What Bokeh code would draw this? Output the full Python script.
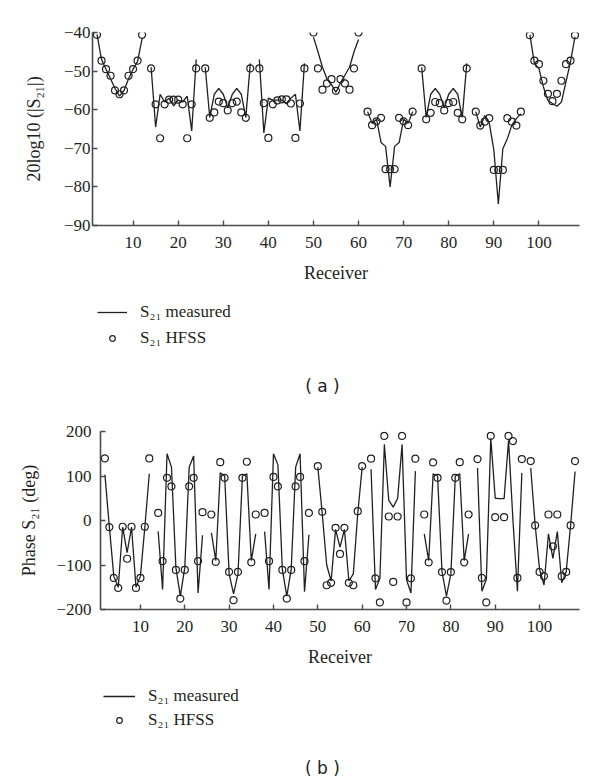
import math
from bokeh.plotting import figure
from bokeh.layouts import column
from bokeh.models import Legend, LegendItem, FixedTicker, Label, ColumnDataSource
from bokeh.embed import file_html
from bokeh.resources import INLINE

nan = float("nan")

# Receiver index 1..108 (9 groups of 12; first slot of each group has no value)
receivers = list(range(1, 109))

mag_measured = (
    [nan, -40.5, -47.0, -49.5, -52.0, -54.5, -56.5, -55.0, -52.0, -49.5, -47.5, -41.5]
    + [nan, -49.0, -64.5, -56.0, -58.0, -57.0, -59.0, -57.5, -58.0, -56.5, -65.5, -47.0]
    + [nan, -49.0, -62.0, -56.0, -54.5, -56.0, -59.5, -56.0, -54.5, -56.0, -62.0, -48.0]
    + [nan, -47.0, -66.0, -57.0, -57.5, -57.5, -57.5, -58.5, -57.0, -56.0, -65.5, -48.0]
    + [nan, -41.2, -45.0, -49.0, -52.0, -53.5, -55.5, -53.0, -51.0, -49.0, -45.0, -41.8]
    + [nan, -60.5, -63.5, -62.5, -68.5, -69.5, -80.0, -69.5, -68.5, -62.5, -63.5, -60.5]
    + [nan, -49.0, -62.0, -56.0, -54.5, -56.0, -59.5, -56.0, -54.5, -56.0, -62.0, -48.0]
    + [nan, -60.5, -64.5, -61.5, -63.5, -70.4, -84.4, -70.1, -67.5, -64.0, -62.3, -61.0]
    + [nan, -40.6, -48.0, -49.3, -54.1, -57.6, -58.4, -59.1, -58.0, -52.8, -47.6, -41.1]
)

mag_hfss = (
    [nan, -40.6, -47.3, -49.5, -51.2, -55.0, -56.0, -55.0, -51.2, -49.5, -47.3, -40.6]
    + [nan, -49.3, -58.6, -67.4, -58.6, -57.4, -57.4, -57.4, -58.6, -67.4, -58.6, -49.3]
    + [nan, -49.3, -62.1, -60.7, -57.9, -58.3, -60.2, -58.3, -57.9, -60.7, -62.1, -49.3]
    + [nan, -49.3, -58.3, -67.3, -58.6, -57.6, -57.3, -57.3, -58.4, -67.3, -58.4, -49.3]
    + [nan, -40.0, -49.3, -54.8, -53.2, -52.1, -55.1, -52.1, -53.2, -54.8, -49.3, -40.0]
    + [nan, -60.5, -64.0, -63.0, -62.1, -75.4, -75.4, -75.4, -62.1, -63.0, -64.0, -60.5]
    + [nan, -49.3, -62.5, -60.8, -58.0, -58.3, -60.2, -58.3, -58.0, -60.8, -62.5, -49.3]
    + [nan, -60.5, -64.1, -63.1, -62.2, -75.6, -75.6, -75.6, -62.2, -63.1, -64.1, -60.5]
    + [nan, -40.7, -47.3, -48.2, -52.5, -55.9, -57.8, -55.9, -52.5, -48.2, -47.3, -40.7]
)

phase_measured = (
    [nan, 103, -15, -125, -150, -15, -72, -15, -150, -125, -15, 105]
    + [nan, -24, -155, 150, 120, -106, -170, -106, 120, 145, -163, -33]
    + [nan, -28, -90, 107, 100, -120, -165, -120, 100, 105, -90, -30]
    + [nan, -25, -155, 150, 125, -110, -170, -110, 120, 150, -160, -32]
    + [nan, 120, 15, -100, -136, -20, -60, -20, -136, -120, 15, 120]
    + [nan, 115, -155, -130, 171, 45, 30, 50, 171, -133, -163, 111]
    + [nan, -30, -90, 105, 100, -115, -170, -120, 100, 105, -90, -30]
    + [nan, 118, -159, -132, 185, 50, 49, 49, 180, 0, -159, 107]
    + [nan, 118, -10, -110, -145, -30, -85, -25, -140, -115, -10, 110]
)

phase_hfss = (
    [nan, 139.5, -15, -129, -151.5, -14, -86, -14, -151.5, -129, -14, 139.5]
    + [nan, 17, -91.5, 96, 76.5, -111, -175.5, -111, 76.5, 96, -91.5, 18.75]
    + [nan, 13.5, -93, 131, 96, -115.5, -179, -115.5, 96, 132, -94, 13.5]
    + [nan, 17, -91.5, 98, 76.5, -111, -175.5, -111, 76.5, 98, -91.5, 17]
    + [nan, 122, 19.5, -145.5, -140, -16.5, -75, -16.5, -140, -145.5, 21, 122]
    + [nan, 139, -130, -184, 190, 9, -138, 9, 190, -184, -130, 139]
    + [nan, 13.5, -94, 130.5, 96, -116, -180, -116, 96, 131, -94, 13.5]
    + [nan, 138, -129, -184, 190, 7.5, nan, 7.5, 190, 178.5, -129, 138]
    + [nan, 133.5, -11, -115.5, -125, 13.5, -58, 13.5, -125, -115.5, -11, 133.5]
)

x_ticks = [10, 20, 30, 40, 50, 60, 70, 80, 90, 100]
mag_ticks = [-90, -80, -70, -60, -50, -40]
mag_tick_labels = ["\u221290", "\u221280", "\u221270", "\u221260", "\u221250", "\u221240"]
phase_ticks = [-200, -100, 0, 100, 200]
phase_tick_labels = ["\u2212200", "\u2212100", "0", "100", "200"]

legend_measured = "S\u2082\u2081 measured"
legend_hfss = "S\u2082\u2081 HFSS"

INK = "#231f20"
AXIS = "#4a4a4a"
SERIF = "Liberation Serif"
W = 600


def style_axes(p, yticks, ylabels, ylabel, ystand, ylabstand):
    p.xgrid.visible = False
    p.ygrid.visible = False
    p.outline_line_color = None
    p.background_fill_color = "white"
    p.border_fill_color = "white"
    for ax in (p.xaxis[0], p.yaxis[0]):
        ax.axis_line_color = AXIS
        ax.axis_line_width = 1.6
        ax.major_tick_line_color = AXIS
        ax.major_tick_line_width = 1.4
        ax.major_tick_in = 5
        ax.major_tick_out = 0
        ax.minor_tick_line_color = None
        ax.major_label_text_font = SERIF
        ax.major_label_text_font_size = "17px"
        ax.major_label_text_color = INK
        ax.axis_label_text_font = SERIF
        ax.axis_label_text_font_size = "18px"
        ax.axis_label_text_font_style = "normal"
        ax.axis_label_text_color = INK
    p.xaxis[0].ticker = FixedTicker(ticks=x_ticks)
    p.xaxis[0].axis_label = "Receiver"
    p.xaxis[0].major_label_standoff = 11
    p.xaxis[0].axis_label_standoff = 12
    p.yaxis[0].ticker = FixedTicker(ticks=yticks)
    p.yaxis[0].major_label_overrides = {t: s for t, s in zip(yticks, ylabels)}
    p.yaxis[0].axis_label = ylabel
    p.yaxis[0].major_label_standoff = ystand
    p.yaxis[0].axis_label_standoff = ylabstand


def legend_panel(height, vx, vy, glyph_w, spacing, cap_x, cap_y, caption):
    q = figure(width=W, height=height, x_range=(0, W), y_range=(0, height),
               output_backend="svg", toolbar_location=None, min_border=0,
               x_axis_location=None, y_axis_location=None)
    q.xgrid.visible = False
    q.ygrid.visible = False
    q.outline_line_color = None
    q.border_fill_color = "white"
    key_src = ColumnDataSource(dict(x=[nan], y=[nan]))
    r_line = q.line("x", "y", source=key_src, line_color=INK, line_width=1.3)
    r_circ = q.scatter("x", "y", source=key_src, marker="circle", size=7,
                       fill_color=None, line_color=INK, line_width=1.2)
    leg = Legend(
        items=[LegendItem(label=legend_measured, renderers=[r_line]),
               LegendItem(label=legend_hfss, renderers=[r_circ])],
        location=(vx, vy),
        orientation="vertical",
        glyph_width=glyph_w,
        glyph_height=14,
        label_height=20,
        label_standoff=13,
        spacing=spacing,
        padding=0,
        margin=0,
        border_line_color=None,
        background_fill_alpha=0,
        label_text_font=SERIF,
        label_text_font_size="17px",
        label_text_color=INK,
    )
    q.add_layout(leg, "center")
    q.add_layout(Label(x=cap_x, y=cap_y, x_units="screen", y_units="screen",
                       text=caption, text_align="center", text_baseline="middle",
                       text_font="DejaVu Sans", text_font_size="17px", text_color=INK))
    return q


src = ColumnDataSource(dict(r=receivers, mm=mag_measured, mh=mag_hfss,
                            pm=phase_measured, ph=phase_hfss))

# ---------------- panel (a) ----------------
pa = figure(width=W, height=290, x_range=(1, 109), y_range=(-90, -40),
            output_backend="svg", toolbar_location=None,
            min_border_left=92, min_border_right=21, min_border_top=32,
            min_border_bottom=65)
pa.line("r", "mm", source=src, line_color=INK, line_width=1.3)
pa.scatter("r", "mh", source=src, marker="circle", size=7,
           fill_color=None, line_color=INK, line_width=1.2)
style_axes(pa, mag_ticks, mag_tick_labels, "20log10 (|S\u2082\u2081|)", 2, 17)
la = legend_panel(110, 97, 52, 30, 6, 322, 15, "( a )")

# ---------------- panel (b) ----------------
pb = figure(width=W, height=275, x_range=(1, 109), y_range=(-200, 200),
            output_backend="svg", toolbar_location=None,
            min_border_left=100, min_border_right=21, min_border_top=31,
            min_border_bottom=66)
pb.line("r", "pm", source=src, line_color=INK, line_width=1.3)
pb.scatter("r", "ph", source=src, marker="circle", size=7,
           fill_color=None, line_color=INK, line_width=1.2)
style_axes(pb, phase_ticks, phase_tick_labels, "Phase S\u2082\u2081 (deg)", 9, 14)
lb = legend_panel(107, 103, 52, 32, 4, 322, 15, "( b )")

# each figure in its own column so their frames are not aligned to each other
layout = column(column(pa), column(la), column(pb), column(lb), spacing=0)
open("out.html", "w").write(file_html(layout, INLINE))
